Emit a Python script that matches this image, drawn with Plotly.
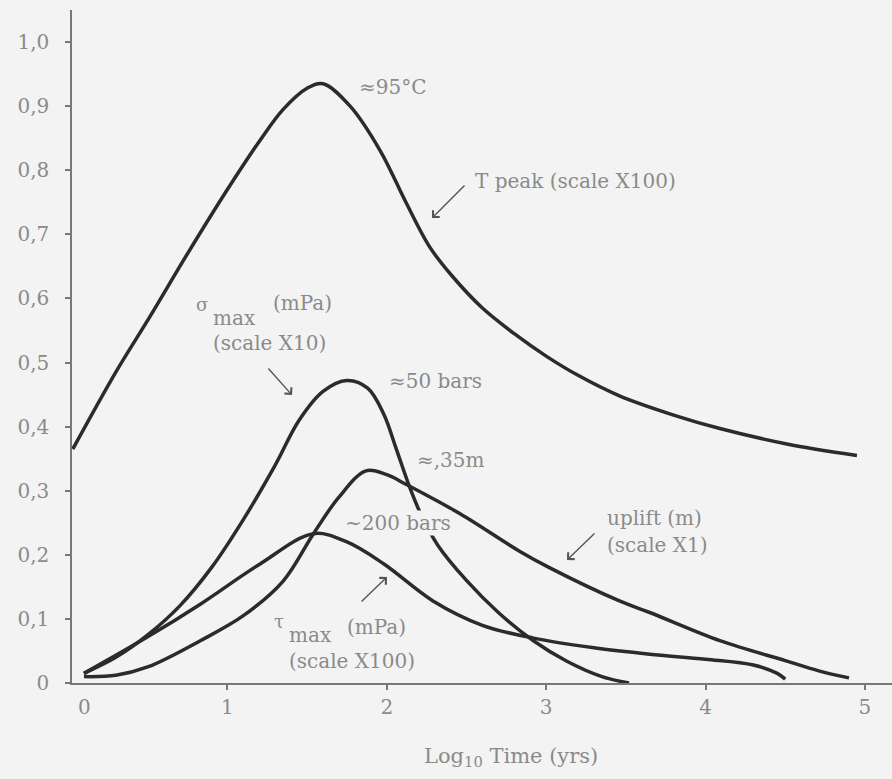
import plotly.graph_objects as go

# ---- data ----
t_peak_x = [0.03, 0.3, 0.51, 0.75, 1.0, 1.2, 1.35, 1.5, 1.6, 1.77, 1.96, 2.12, 2.27, 2.41, 2.6, 2.8, 3.0, 3.2, 3.46, 3.8, 4.09, 4.51, 4.95]
t_peak_y = [0.365, 0.485, 0.57, 0.67, 0.77, 0.845, 0.895, 0.928, 0.935, 0.9, 0.83, 0.75, 0.68, 0.635, 0.585, 0.545, 0.51, 0.48, 0.448, 0.418, 0.397, 0.373, 0.355]

sigma_x = [0.1, 0.3, 0.5, 0.7, 0.9, 1.1, 1.3, 1.45, 1.6, 1.75, 1.88, 1.98, 2.06, 2.14, 2.22, 2.32, 2.5, 2.7, 2.92, 3.13, 3.35, 3.52]
sigma_y = [0.015, 0.04, 0.075, 0.12, 0.18, 0.255, 0.34, 0.41, 0.455, 0.472, 0.46, 0.42, 0.365, 0.308, 0.26, 0.215, 0.16, 0.11, 0.066, 0.034, 0.01, 0.0]

tau_x = [0.1, 0.5, 0.83, 1.2, 1.54, 1.75, 1.98, 2.29, 2.6, 2.92, 3.3, 3.65, 4.0, 4.3, 4.45, 4.5]
tau_y = [0.015, 0.072, 0.123, 0.185, 0.233, 0.22, 0.186, 0.128, 0.09, 0.07, 0.055, 0.045, 0.037, 0.028, 0.015, 0.006]

uplift_x = [0.1, 0.3, 0.5, 0.83, 1.1, 1.35, 1.54, 1.7, 1.87, 2.0, 2.12, 2.46, 2.83, 3.02, 3.46, 3.65, 4.09, 4.5, 4.71, 4.9]
uplift_y = [0.01, 0.012, 0.025, 0.066, 0.105, 0.159, 0.233, 0.29, 0.331, 0.325, 0.31, 0.264, 0.206, 0.18, 0.128, 0.11, 0.066, 0.035, 0.019, 0.008]

x_ticks = [0, 1, 2, 3, 4, 5]
y_ticks = [0, 0.1, 0.2, 0.3, 0.4, 0.5, 0.6, 0.7, 0.8, 0.9, 1.0]
y_tick_text = ["0", "0,1", "0,2", "0,3", "0,4", "0,5", "0,6", "0,7", "0,8", "0,9", "1,0"]

BG = "#f3f3f3"
LINE = "#2b2b2b"
TXT = "#8a8a8a"
FONT = "DejaVu Serif"
FS = 20

fig = go.Figure()
for xs, ys, name in [(t_peak_x, t_peak_y, "T peak"), (sigma_x, sigma_y, "sigma max"),
                     (tau_x, tau_y, "tau max"), (uplift_x, uplift_y, "uplift")]:
    fig.add_trace(go.Scatter(x=xs, y=ys, mode="lines", name=name,
                             line=dict(color=LINE, width=3.5, shape="spline", smoothing=1.0),
                             showlegend=False, hoverinfo="skip"))

def px2x(px):
    return (px - 68.0) / 159.38

def py2y(py):
    return (683.0 - py) / 641.0

def text(px, py, s, anchor="left", bg=None, size=FS):
    fig.add_annotation(x=px2x(px), y=py2y(py), xref="x", yref="y", text=s, showarrow=False,
                       xanchor=anchor, yanchor="middle",
                       font=dict(family=FONT, size=size, color=TXT),
                       bgcolor=bg if bg else "rgba(0,0,0,0)", borderpad=0)

def arrow(tx, ty, hx, hy):
    fig.add_annotation(x=px2x(hx), y=py2y(hy), ax=px2x(tx), ay=py2y(ty),
                       xref="x", yref="y", axref="x", ayref="y", text="",
                       showarrow=True, arrowhead=4, arrowsize=1.3, arrowwidth=1.4,
                       arrowcolor="#555")

text(358, 87, "≈95°C")
text(474, 181, "T peak (scale X100)")
arrow(466, 184, 432, 218)

text(195, 304, "σ", size=18)
text(212, 318, "max")
text(272, 303, "(mPa)")
text(212, 343, "(scale X10)")
arrow(267, 367, 292, 395)

text(388, 381, "≈50 bars")
text(416, 460, "≈,35m")
text(344, 523, "~200 bars", bg=BG)

text(606, 518, "uplift (m)")
text(606, 545, "(scale X1)")
arrow(596, 532, 567, 560)

text(273, 621, "τ", size=18)
text(288, 635, "max")
text(346, 627, "(mPa)")
text(288, 661, "(scale X100)")
arrow(360, 603, 387, 577)

# x tick "0" label of the hand-drawn axis sits just right of the y axis
fig.add_annotation(x=(84 - 72) / 820.0, y=-(707 - 683) / 673.0, xref="paper", yref="paper",
                   text="0", showarrow=False, xanchor="center", yanchor="middle",
                   font=dict(family=FONT, size=FS, color=TXT))

fig.add_annotation(x=(511 - 72) / 820.0, y=-(757 - 683) / 673.0, xref="paper", yref="paper",
                   text="Log<sub>10</sub> Time (yrs)", showarrow=False,
                   xanchor="center", yanchor="middle",
                   font=dict(family=FONT, size=21, color=TXT))

fig.update_xaxes(range=[0.025, 5.17], tickvals=x_ticks, ticktext=[str(v) for v in x_ticks],
                 showline=True, linecolor="#777", linewidth=1.5, ticks="outside", ticklen=5,
                 tickcolor="#777", tickwidth=1.5, showgrid=False, zeroline=False,
                 tickfont=dict(family=FONT, size=FS, color=TXT), ticklabelstandoff=0)
fig.update_yaxes(range=[0, 1.05], tickvals=y_ticks, ticktext=y_tick_text,
                 showline=True, linecolor="#777", linewidth=1.5, ticks="outside", ticklen=5,
                 tickcolor="#777", tickwidth=1.5, showgrid=False, zeroline=False,
                 tickfont=dict(family=FONT, size=FS, color=TXT), ticklabelstandoff=12)
fig.update_layout(width=892, height=779, margin=dict(l=72, r=0, t=10, b=96),
                  paper_bgcolor=BG, plot_bgcolor=BG, showlegend=False)

fig.write_html("out.html")
